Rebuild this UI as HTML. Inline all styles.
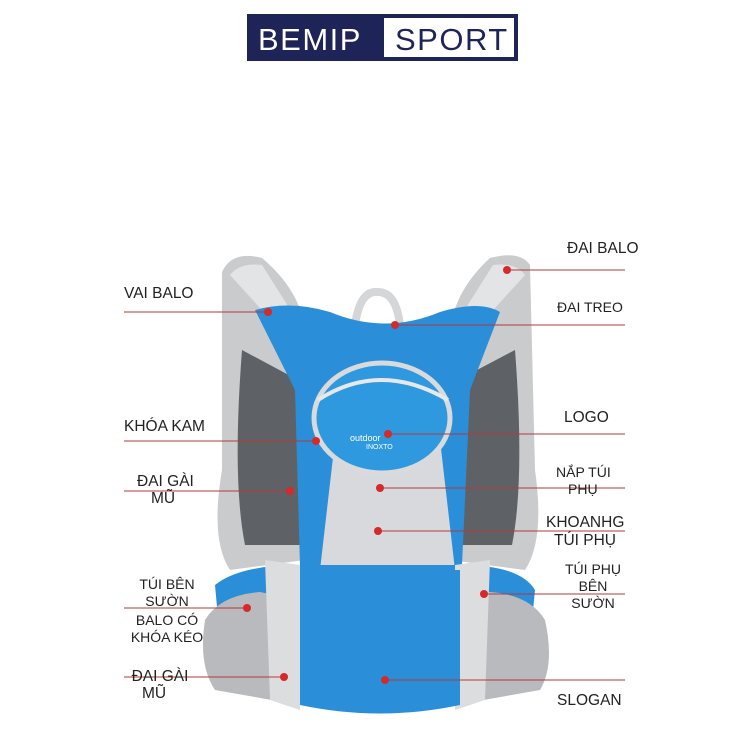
<!DOCTYPE html>
<html><head><meta charset="utf-8"><style>
body{margin:0;background:#fff;}
svg{display:block}
text{font-family:"Liberation Sans",sans-serif;fill:#222;font-size:15.5px}
</style></head><body>
<svg width="750" height="750" viewBox="0 0 750 750">
<!-- logo -->
<rect x="247" y="14" width="271" height="47" fill="#1e2358"/>
<rect x="384" y="18" width="130" height="39" fill="#fff"/>
<text x="258" y="50" style="font-size:31px;fill:#fff;letter-spacing:1.5px">BEMIP</text>
<text x="395" y="50" style="font-size:31px;fill:#1e2358;letter-spacing:1.5px">SPORT</text>

<!-- straps outer -->
<path d="M222,272 Q232,250 262,258 Q300,290 305,330 L305,560 L230,570 Q210,540 222,470 Z" fill="#c9cbcd"/>
<path d="M530,265 Q520,250 490,258 Q455,290 450,330 L450,560 L525,570 Q545,540 535,470 Z" fill="#c9cbcd"/>
<path d="M242,350 L298,380 L300,545 L245,545 Q232,480 242,350 Z" fill="#5e6266"/>
<path d="M515,350 L458,380 L458,545 L512,545 Q525,480 515,350 Z" fill="#5e6266"/>
<path d="M230,275 Q240,262 262,265 L300,325 L280,330 Z" fill="#e3e4e5"/>
<path d="M525,275 Q515,262 493,265 L455,325 L475,330 Z" fill="#e3e4e5"/>
<!-- handle -->
<path d="M355,325 Q360,290 378,292 Q396,292 400,325" stroke="#d5d6d8" stroke-width="8" fill="none"/>
<!-- blue body -->
<path d="M255,310 Q290,300 330,312 Q385,335 440,312 Q480,300 500,312 L470,390 L462,565 L300,565 L295,390 Z" fill="#2a8fd8"/>
<!-- grey panel -->
<path d="M335,440 L440,440 L455,570 L320,570 Z" fill="#d7d9dc"/>
<!-- pocket -->
<ellipse cx="382" cy="418" rx="68" ry="55" fill="#2f99e0" stroke="#d8dadc" stroke-width="5"/>
<path d="M318,400 Q380,360 448,400" stroke="#e8e8e8" stroke-width="4" fill="none"/>
<text x="350" y="441" style="font-size:9px;fill:#fff">outdoor</text>
<text x="366" y="449" style="font-size:7px;fill:#fff">INOXTO</text>
<!-- belt -->
<path d="M215,585 Q240,565 300,565 L460,565 Q520,565 535,590 L530,640 L220,640 Z" fill="#2a8fd8"/>
<!-- side pockets -->
<path d="M205,620 Q220,595 260,592 L300,600 L300,705 L215,690 Q198,665 205,620 Z" fill="#b8babd"/>
<path d="M545,620 Q530,595 490,592 L455,600 L455,705 L540,690 Q555,665 545,620 Z" fill="#b8babd"/>
<path d="M265,560 L300,565 L300,710 L270,700 Z" fill="#dcdddf"/>
<path d="M490,560 L455,565 L455,710 L485,700 Z" fill="#dcdddf"/>
<!-- lower blue -->
<path d="M300,570 L460,570 L460,705 Q380,722 300,705 Z" fill="#2a8fd8"/>

<!-- connectors -->
<g stroke="#b33a3a" stroke-width="1">
<line x1="505" y1="270" x2="625" y2="270"/>
<line x1="124" y1="312" x2="268" y2="312"/>
<line x1="395" y1="325" x2="625" y2="325"/>
<line x1="124" y1="441" x2="316" y2="441"/>
<line x1="388" y1="434" x2="625" y2="434"/>
<line x1="124" y1="491" x2="290" y2="491"/>
<line x1="380" y1="488" x2="625" y2="488"/>
<line x1="378" y1="531" x2="625" y2="531"/>
<line x1="124" y1="608" x2="247" y2="608"/>
<line x1="484" y1="594" x2="625" y2="594"/>
<line x1="124" y1="677" x2="284" y2="677"/>
<line x1="385" y1="680" x2="625" y2="680"/>
</g>
<g fill="#d42a2a">
<circle cx="507" cy="270" r="4"/><circle cx="268" cy="312" r="4"/>
<circle cx="395" cy="325" r="4"/><circle cx="316" cy="441" r="4"/>
<circle cx="388" cy="434" r="4"/><circle cx="290" cy="491" r="4"/>
<circle cx="380" cy="488" r="4"/><circle cx="378" cy="531" r="4"/>
<circle cx="247" cy="608" r="4"/><circle cx="484" cy="594" r="4"/>
<circle cx="284" cy="677" r="4"/><circle cx="385" cy="680" r="4"/>
</g>

<!-- labels -->
<text x="567" y="253">ĐAI BALO</text>
<text x="124" y="298">VAI BALO</text>
<text x="557" y="312" style="font-size:14px">ĐAI TREO</text>
<text x="124" y="431">KHÓA KAM</text>
<text x="564" y="422">LOGO</text>
<text x="137" y="486">ĐAI GÀI</text>
<text x="151" y="503">MŨ</text>
<text x="556" y="477" style="font-size:14px">NẮP TÚI</text>
<text x="568" y="494" style="font-size:14px">PHỤ</text>
<text x="546" y="527">KHOANHG</text>
<text x="554" y="545">TÚI PHỤ</text>
<text x="167" y="589" text-anchor="middle" style="font-size:14px">TÚI BÊN</text>
<text x="167" y="606" text-anchor="middle" style="font-size:14px">SƯỜN</text>
<text x="167" y="625" text-anchor="middle" style="font-size:14px">BALO CÓ</text>
<text x="167" y="642" text-anchor="middle" style="font-size:14px">KHÓA KÉO</text>
<text x="593" y="574" text-anchor="middle" style="font-size:14px">TÚI PHỤ</text>
<text x="593" y="591" text-anchor="middle" style="font-size:14px">BÊN</text>
<text x="593" y="608" text-anchor="middle" style="font-size:14px">SƯỜN</text>
<text x="160" y="681" text-anchor="middle">ĐAI GÀI</text>
<text x="154" y="698" text-anchor="middle">MŨ</text>
<text x="557" y="705">SLOGAN</text>
</svg>
</body></html>
